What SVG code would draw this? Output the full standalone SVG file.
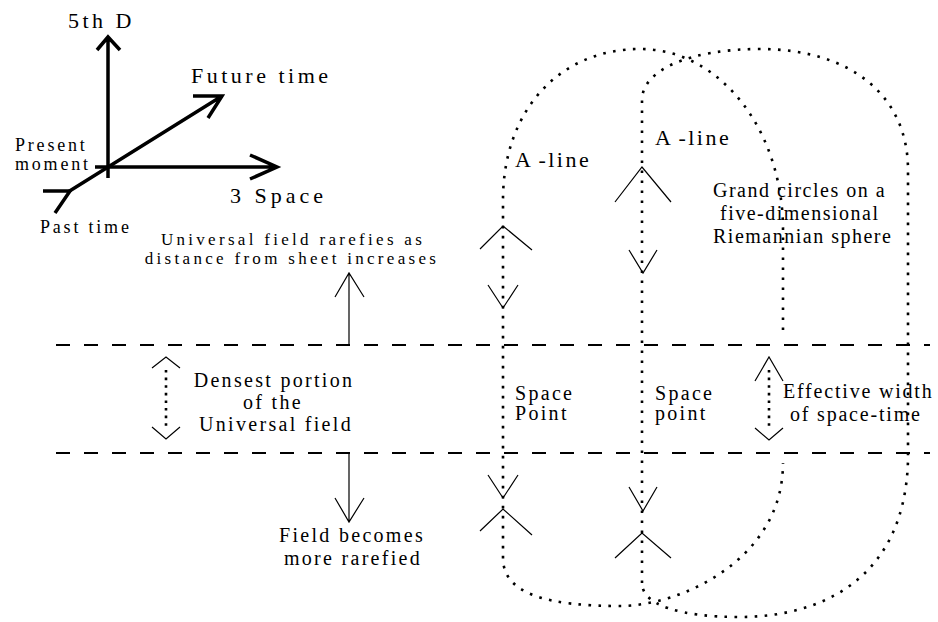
<svg xmlns="http://www.w3.org/2000/svg" width="938" height="622" viewBox="0 0 938 622">
<style>
text{font-family:"Liberation Serif","Times New Roman",serif;fill:#000}
.big{font-size:22px;letter-spacing:3.5px}
.mid{font-size:20px;letter-spacing:2.3px}
.sm{font-size:18px;letter-spacing:2.8px}
.xs{font-size:17px;letter-spacing:3.3px}
.c{text-anchor:middle}
.axis{stroke:#000;stroke-width:3.5;fill:none;stroke-linecap:butt;stroke-linejoin:miter}
.thin{stroke:#000;stroke-width:1.2;fill:none}
.dash{stroke:#000;stroke-width:2;stroke-dasharray:14 14;fill:none}
.dot{stroke:#000;stroke-width:2.6;stroke-dasharray:2.6 7.4;fill:none}
.dot2{stroke:#000;stroke-width:2.6;stroke-dasharray:2.6 5;fill:none}
</style>
<rect width="938" height="622" fill="#fff"/>
<g id="axes">
<path class="axis" d="M108,178 V37 M97,50 L108,37 L120,50"/>
<path class="axis" d="M95,167 H277 M250,155 L277,167 L250,179"/>
<path class="axis" d="M68,192 L222,96 M193,96 H222 L208,118"/>
<path class="axis" d="M43,191 H70 L55,213"/>
<text class="big" x="68" y="28">5th D</text>
<text class="big" x="191" y="83">Future time</text>
<text class="big" x="230" y="203" style="letter-spacing:4px">3 Space</text>
<text class="sm" x="15" y="151">Present</text>
<text class="sm" x="15" y="170">moment</text>
<text class="sm" x="40" y="233">Past time</text>
</g>
<g id="sheet">
<path class="dash" d="M56,345 H930 M56,453 H930"/>
</g>
<g id="rarefies-up">
<text class="xs c" x="293" y="245">Universal field rarefies as</text>
<text class="xs c" x="292" y="264">distance from sheet increases</text>
</g>
<g id="densest">
<text class="mid c" x="274" y="387">Densest portion</text>
<text class="mid c" x="273" y="409">of the</text>
<text class="mid c" x="276" y="431">Universal field</text>
</g>
<g id="rarefied-down">
<text class="mid c" x="352" y="542">Field becomes</text>
<text class="mid c" x="353" y="565">more rarefied</text>
</g>
<g id="loopA">
<path class="dot" d="M783,330 V230 C783,130 720,49 640,49 C560,49 503,110 503,200 V558 C503,595 550,606 620,606 C680,606 783,560 783,463"/>
<text class="big" x="515" y="167" style="letter-spacing:2.5px">A<tspan dx="5">-line</tspan></text>
<text class="mid" x="515" y="400">Space</text>
<text class="mid" x="515" y="420">Point</text>
</g>
<g id="loopB">
<path class="dot" d="M642,583 V100 C642,70 690,49 760,49 C850,49 908,95 908,170 V460 C905,580 820,617 740,617 C680,617 642,605 642,583"/>
<text class="big" x="655" y="145" style="letter-spacing:2.5px">A<tspan dx="5">-line</tspan></text>
<text class="mid" x="655" y="400">Space</text>
<text class="mid" x="655" y="420">point</text>
</g>
<g id="grand-circles">
<text class="mid" x="713" y="197" style="letter-spacing:1.5px">Grand circles on a</text>
<text class="mid" x="720" y="220" style="letter-spacing:1.5px">five-dimensional</text>
<text class="mid" x="713" y="243" style="letter-spacing:1.5px">Riemannian sphere</text>
</g>
<g id="effective-width">
<text class="mid" x="783" y="398" style="letter-spacing:1.8px">Effective width</text>
<text class="mid" x="790" y="421" style="letter-spacing:1.8px">of space-time</text>
</g>
<g id="connectors">
<path class="thin" d="M349,346 V273 M335,297 L349,273 L364,297"/>
<path class="thin" d="M349,453 V522 M335,498 L349,522 L364,498"/>
<path class="dot2" d="M166,370 V428"/>
<path class="thin" d="M152,368 L166,357 L180,368 M152,427 L166,439 L180,427"/>
<path class="dot2" d="M769,370 V428"/>
<path class="thin" d="M755,381 L769,357 L783,381 M755,428 L769,440 L783,428"/>
<path class="thin" d="M480,249 L503,226 L532,250 M488,285 L503,308 L518,285"/>
<path class="thin" d="M615,202 L642,167 L671,202 M629,250 L643,273 L657,250"/>
<path class="thin" d="M488,475 L503,498 L518,475 M480,531 L503,509 L532,535"/>
<path class="thin" d="M629,487 L643,511 L657,487 M615,558 L642,533 L671,558"/>
</g>
</svg>
